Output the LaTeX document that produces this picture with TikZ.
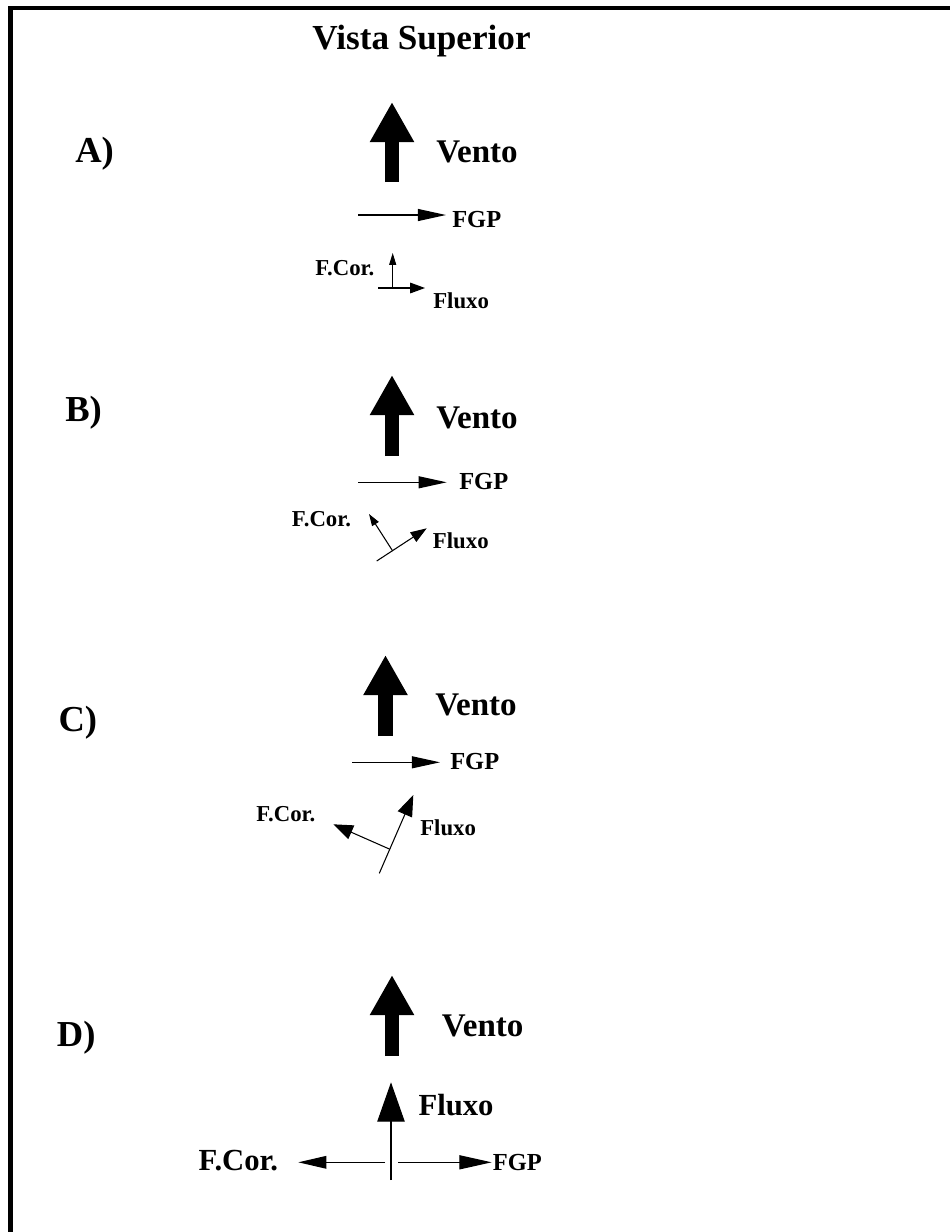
\documentclass[tikz,border=0pt]{standalone}
\usepackage{fontspec}
\setmainfont{Liberation Serif}
\usetikzlibrary{arrows.meta}

\begin{document}
\begin{tikzpicture}[
    x=0.025cm, y=-0.025cm,
    txt/.style={inner sep=0pt, anchor=base west, font=\bfseries},
    titulo/.style={txt, font=\bfseries\fontsize{25}{25}\selectfont},
    letra/.style={txt, font=\bfseries\fontsize{26}{26}\selectfont},
    grande/.style={txt, font=\bfseries\fontsize{23.5}{23.5}\selectfont},
    medio/.style={txt, font=\bfseries\fontsize{17.4}{17.4}\selectfont},
    pequeno/.style={txt, font=\bfseries\fontsize{16.2}{16.2}\selectfont},
    dlbl/.style={txt, font=\bfseries\fontsize{21.8}{21.8}\selectfont},
    vento/.style={line width=10pt, -{Triangle[length=28.5pt, width=29.5pt]}},
    fgp/.style={line width=0.9pt, -{Triangle[length=20pt, width=8.5pt]}},
    seta/.style={line width=0.75pt},
]
    \useasboundingbox (0,0) rectangle (950,1232);

    % --- Frame and title ---
    \draw[line width=3pt, line join=miter] (10.5,1232) -- (10.5,8) -- (950,8);
    \node[titulo] (titulo) at (312,49) {Vista Superior};

    % --- Panel A ---
    \node[letra] (lblA) at (75,162) {A)};
    \draw[vento] (392,182) -- (392,102);
    \node[grande] (ventoA) at (436,162) {Vento};
    \draw[fgp] (358,215) -- (446,215);
    \node[medio] (fgpA) at (452,227.3) {FGP};
    \draw[seta, -{Triangle[length=8.5pt, width=5pt]}] (392.7,288) -- (392.7,253);
    \draw[seta, -{Triangle[length=10.5pt, width=7.5pt]}] (378,288) -- (425,288);
    \node[pequeno] (corA) at (315,275) {F.Cor.};
    \node[pequeno] (fluxoA) at (433,308) {Fluxo};

    % --- Panel B ---
    \node[letra] (lblB) at (65,421.7) {B)};
    \draw[vento] (392,456) -- (392,375);
    \node[grande] (ventoB) at (436,428) {Vento};
    \draw[fgp] (358,482.3) -- (446.7,482.3);
    \node[medio] (fgpB) at (459,489.3) {FGP};
    \draw[seta, -{Triangle[length=11.5pt, width=8pt]}] (376.7,561) -- (426.7,528.3);
    \draw[seta, -{Triangle[length=8.5pt, width=5.5pt]}] (392.7,551) -- (369,514);
    \node[pequeno] (corB) at (291.7,526.7) {F.Cor.};
    \node[pequeno] (fluxoB) at (432.7,548.3) {Fluxo};

    % --- Panel C ---
    \node[letra] (lblC) at (58.3,731.7) {C)};
    \draw[vento] (385.5,736) -- (385.5,655);
    \node[grande] (ventoC) at (435,715) {Vento};
    \draw[fgp] (352.3,762.3) -- (440,762.3);
    \node[medio] (fgpC) at (450,769.3) {FGP};
    \draw[seta, -{Triangle[length=15pt, width=11pt]}] (379.3,873.3) -- (413.3,795);
    \draw[seta, -{Triangle[length=14pt, width=10.5pt]}] (390,849.3) -- (333.3,824.3);
    \node[pequeno] (corC) at (256,821.7) {F.Cor.};
    \node[pequeno] (fluxoC) at (420,835) {Fluxo};

    % --- Panel D ---
    \node[letra] (lblD) at (56.7,1046.7) {D)};
    \draw[vento] (392,1056) -- (392,975);
    \node[grande] (ventoD) at (441.7,1036) {Vento};
    \draw[seta, -{Triangle[length=28pt, width=19.5pt]}] (391,1180) -- (391,1082.3);
    \node[dlbl] (fluxoD) at (418.3,1115) {Fluxo};
    \draw[fgp, -{Triangle[length=23pt, width=10pt]}] (398.3,1162.3) -- (491.7,1162.3);
    \node[medio] (fgpD) at (492.7,1170) {FGP};
    \draw[fgp, -{Triangle[length=20pt, width=9pt]}] (385,1162.3) -- (298.3,1162.3);
    \node[dlbl] (corD) at (198.3,1170) {F.Cor.};
\end{tikzpicture}
\end{document}
